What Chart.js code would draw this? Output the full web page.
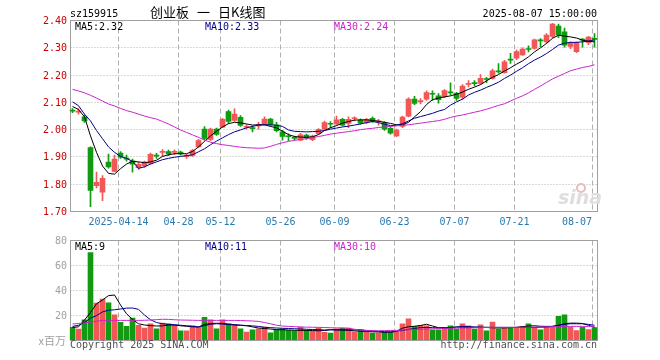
<!DOCTYPE html>
<html>
<head>
<meta charset="utf-8">
<script src="https://cdn.jsdelivr.net/npm/chart.js@4.4.1/dist/chart.umd.min.js"></script>
<style>
html,body{margin:0;padding:0;background:#fff;}
#wrap{position:relative;width:660px;height:360px;}
canvas{display:block;}
</style>
</head>
<body>
<div id="wrap"><canvas id="c" width="660" height="360"></canvas></div>
<script>
// ---------- data ----------
const dates = ['04-01','04-02','04-03','04-07','04-08','04-09','04-10','04-11','04-14','04-15','04-16','04-17','04-18','04-21','04-22','04-23','04-24','04-25','04-28','04-29','04-30',
'05-06','05-07','05-08','05-09','05-12','05-13','05-14','05-15','05-16','05-19','05-20','05-21','05-22','05-23','05-26','05-27','05-28','05-29','05-30',
'06-03','06-04','06-05','06-06','06-09','06-10','06-11','06-12','06-13','06-16','06-17','06-18','06-19','06-20','06-23','06-24','06-25','06-26','06-27','06-30',
'07-01','07-02','07-03','07-04','07-07','07-08','07-09','07-10','07-11','07-14','07-15','07-16','07-17','07-18','07-21','07-22','07-23','07-24','07-25','07-28','07-29','07-30','07-31',
'08-01','08-04','08-05','08-06','08-07'];

const openP  = [2.070,2.062,2.045,1.932,1.793,1.769,1.879,1.845,1.912,1.893,1.884,1.859,1.865,1.874,1.905,1.915,1.918,1.915,1.916,1.899,1.904,
1.936,2.000,1.962,2.000,2.007,2.064,2.032,2.043,2.007,2.005,2.012,2.018,2.037,2.016,1.990,1.975,1.969,1.960,1.978,
1.961,1.983,2.000,2.021,2.019,2.036,2.021,2.038,2.033,2.025,2.040,2.027,2.024,2.003,1.975,2.010,2.048,2.110,2.101,2.110,
2.131,2.122,2.119,2.136,2.131,2.117,2.164,2.170,2.168,2.185,2.186,2.213,2.207,2.256,2.260,2.272,2.295,2.296,2.327,2.320,2.340,2.378,2.357,
2.303,2.284,2.328,2.317,2.332];
const highP  = [2.075,2.075,2.052,1.935,1.843,1.830,1.909,1.905,1.918,1.905,1.890,1.879,1.883,1.912,1.911,1.925,1.923,1.924,1.920,1.908,1.926,
1.963,2.009,2.004,2.004,2.040,2.070,2.074,2.050,2.017,2.012,2.025,2.045,2.040,2.025,1.996,1.983,1.975,1.985,1.982,
1.978,2.002,2.030,2.028,2.048,2.040,2.045,2.045,2.038,2.040,2.045,2.036,2.028,2.008,2.000,2.048,2.115,2.120,2.112,2.140,
2.140,2.130,2.145,2.170,2.135,2.163,2.178,2.178,2.200,2.190,2.220,2.240,2.252,2.278,2.290,2.298,2.305,2.330,2.332,2.350,2.388,2.385,2.370,
2.320,2.320,2.332,2.340,2.350];
const lowP   = [2.060,2.055,2.025,1.716,1.785,1.738,1.857,1.843,1.893,1.883,1.842,1.852,1.860,1.872,1.893,1.900,1.903,1.906,1.905,1.893,1.900,
1.933,1.960,1.958,1.977,2.005,2.020,2.028,2.010,2.000,1.990,2.000,2.015,2.012,1.990,1.960,1.958,1.960,1.958,1.962,
1.958,1.980,1.995,2.005,2.015,2.012,2.005,2.030,2.018,2.020,2.025,2.015,1.995,1.982,1.972,2.005,2.045,2.090,2.092,2.105,
2.105,2.095,2.115,2.125,2.105,2.110,2.155,2.158,2.165,2.170,2.183,2.205,2.205,2.241,2.255,2.270,2.283,2.293,2.302,2.315,2.335,2.335,2.300,
2.295,2.280,2.300,2.310,2.300];
const closeP = [2.066,2.066,2.030,1.775,1.805,1.820,1.862,1.890,1.897,1.890,1.872,1.871,1.879,1.908,1.901,1.919,1.909,1.919,1.909,1.902,1.921,
1.958,1.966,2.000,1.981,2.036,2.028,2.055,2.014,2.010,2.002,2.016,2.037,2.016,1.994,1.973,1.972,1.966,1.979,1.968,
1.975,1.999,2.024,2.018,2.034,2.015,2.036,2.041,2.022,2.036,2.028,2.030,2.000,1.985,1.997,2.044,2.110,2.094,2.104,2.134,
2.128,2.108,2.141,2.133,2.113,2.158,2.167,2.167,2.186,2.182,2.214,2.210,2.247,2.253,2.284,2.293,2.292,2.327,2.323,2.345,2.385,2.345,2.308,
2.315,2.317,2.326,2.337,2.329];

const ma5 = [2.083,2.072,2.045,1.975,1.915,1.865,1.838,1.835,1.855,1.872,1.882,1.880,1.877,1.880,1.886,1.900,1.906,1.910,1.910,1.910,1.918,
1.935,1.955,1.975,1.992,2.008,2.020,2.025,2.023,2.019,2.015,2.016,2.016,2.010,2.005,1.992,1.980,1.973,1.971,1.970,
1.972,1.980,1.995,2.005,2.013,2.022,2.028,2.033,2.034,2.034,2.032,2.029,2.025,2.021,2.016,2.016,2.025,2.045,2.064,2.090,
2.108,2.114,2.118,2.122,2.128,2.136,2.146,2.154,2.163,2.177,2.190,2.200,2.213,2.225,2.238,2.250,2.265,2.283,2.298,2.314,2.333,2.344,2.341,
2.338,2.334,2.326,2.322,2.320];
const ma10 = [2.100,2.086,2.055,2.030,1.995,1.965,1.935,1.915,1.900,1.893,1.882,1.856,1.862,1.872,1.880,1.888,1.893,1.897,1.900,1.903,1.906,
1.917,1.928,1.943,1.956,1.968,1.980,1.990,1.997,2.005,2.010,2.015,2.016,2.016,2.014,2.010,1.997,1.992,1.991,1.990,
1.991,1.992,1.995,2.000,2.004,2.008,2.011,2.015,2.019,2.024,2.028,2.024,2.018,2.013,2.014,2.020,2.030,2.040,2.046,2.052,
2.058,2.066,2.072,2.088,2.100,2.110,2.125,2.135,2.143,2.153,2.162,2.172,2.186,2.198,2.212,2.225,2.240,2.253,2.264,2.277,2.292,2.308,2.315,
2.318,2.318,2.320,2.323,2.327];
const ma30 = [2.146,2.140,2.133,2.124,2.114,2.103,2.092,2.085,2.076,2.068,2.062,2.055,2.048,2.042,2.037,2.028,2.019,2.008,1.997,1.988,1.979,
1.970,1.960,1.952,1.947,1.943,1.940,1.937,1.934,1.932,1.931,1.930,1.931,1.937,1.944,1.950,1.955,1.959,1.962,1.965,
1.969,1.973,1.977,1.982,1.985,1.988,1.991,1.994,1.998,2.001,2.003,2.006,2.008,2.010,2.012,2.014,2.016,2.019,2.022,2.025,
2.028,2.031,2.036,2.043,2.048,2.052,2.057,2.062,2.067,2.073,2.080,2.087,2.093,2.103,2.113,2.122,2.133,2.146,2.158,2.171,2.184,2.194,2.204,
2.214,2.220,2.226,2.230,2.236];

const volume = [10.1,8.8,16.2,70,29.6,32.8,29.8,20.2,14.1,10.9,17.6,11.7,9.6,13,9,13.6,13,11.7,7.4,7.4,11.4,
10.1,18.1,16.2,9,16.2,13,12.2,9,6.4,8.2,9,10.4,5.8,8.2,9,7.7,7.4,10.4,7.7,
6.9,9.6,6.1,5.6,9,9.6,9.6,6.6,8.2,6.1,5.6,5.6,6.4,6.1,6.1,13,17,10.9,11.7,11.4,
8.2,8.2,10.1,11.4,8.8,13,11.4,8.8,12.2,7.4,14.4,8.8,9.6,10.1,10.1,10.9,13,10.1,8.2,10.1,10.1,18.9,20.2,
10.2,7.5,10.2,8.3,10.0];
const vma5 = [10.1,10.5,16,22,29,32,35.5,36,28,21,16.5,13,12,11.5,11.2,11.3,12,12,11.4,11,10.6,
10.4,12.5,13.2,13.4,13.3,12.7,12.2,11.7,11.4,10.5,9.6,9.2,8.8,8.3,8.2,8,7.8,7.7,7.7,
7.6,7.4,7.6,8.2,8,7.9,7.7,7.4,7.1,6.8,6.6,6.4,6.2,6.4,6.9,9.5,10.6,11,11.6,12.6,
11.2,9.8,9.7,10,10.4,10.3,10.1,10.1,10.1,10,9.8,9.6,9.7,9.9,10.1,10.7,11.2,11.4,11,10.9,10.9,11.7,13,
13.5,13.5,13.2,11.8,10.2];
const vma10 = [10.9,11.8,14,17.5,19.5,22.5,23.8,24.2,24.8,25.5,25.6,24.5,20,16.2,14,13,12.5,12.2,11.8,11.4,11,
10.5,11.5,12.6,13,12.8,12.3,12.1,11.9,11.6,11.3,10.9,10.2,9.9,9.6,9.4,9.2,9,8.8,8.6,
8.4,8.2,8,8.2,8.2,8.2,8.2,8.2,8.1,7.6,7.2,6.9,6.6,6.4,6.9,7.7,8.5,9.2,9.9,10.1,
9.9,9.7,9.6,9.9,10.4,10.9,10.7,10.5,10.3,10.2,10.1,10.1,10.1,10.1,10.1,10.1,10.1,10.1,10.2,10.4,10.9,11.8,12.6,
13,13,13,12.5,11.8];
const vma30 = [12.8,13.2,13.7,14.3,15,15.7,15.7,15.7,15.7,15.7,15.7,15.7,15.8,16,16.3,16.6,16.5,16.2,16,15.9,15.8,
15.7,15.7,15.7,15.7,15.7,15.7,15.7,15.6,15.4,15.2,14.9,14,13,11.8,11.2,10.9,10.7,10.4,10.3,
10.2,10.1,10,9.8,9.7,9.6,9.4,8.6,7.9,7.7,7.5,7.4,7.5,7.6,7.7,8,8.2,8.4,8.6,8.8,
9,9.1,9.3,9.4,9.5,9.6,9.7,9.8,9.9,10,10.1,10.1,10.1,10.1,10.1,10.2,10.2,10.3,10.4,10.5,10.6,10.8,10.9,
10.9,10.9,10.9,10.9,10.9];

// values printed in the legends (as shown in the reference)
const priceMaLabels = ['2.32','2.33','2.24'];
const volMaLabels = ['9','11','10'];

const priceTicks = [2.40,2.30,2.20,2.10,2.00,1.90,1.80,1.70];
const volTicks = [80,60,40,20];
const xTickIdx = [8,18,25,35,44,54,64,74,87];
const xTickText = ['2025-04-14','04-28','05-12','05-26','06-09','06-23','07-07','07-21','08-07'];

// ---------- styles ----------
const RED = '#f25757', GREEN = '#129a12';
const C_MA5 = '#000000', C_MA10 = '#00008b', C_MA30 = '#cc22cc';
const candleColor = openP.map((o,i) => closeP[i] >= o ? RED : GREEN);

// price panel: 2.40 -> y20, 1.70 -> y211 ; volume panel: 80 -> y240, 0 -> y340 ; chart area y 20..340
const P_MAX = 2.40, P_MIN = 1.70 - (129 * 0.7 / 191);
const V_MIN = 0, V_MAX = 80 + 220 * 0.8;

const panelPlugin = {
  id: 'panels',
  beforeDatasetsDraw(chart) {
    const {ctx, scales} = chart;
    const xs = scales.x, yp = scales.yp, yv = scales.yv;
    const L = 70.5, R = 597.5;
    const pTop = Math.round(yp.getPixelForValue(priceTicks[0])) + 0.5;
    const pBot = Math.round(yp.getPixelForValue(priceTicks[priceTicks.length-1])) + 0.5;
    const vTop = Math.round(yv.getPixelForValue(volTicks[0])) + 0.5;
    const vBot = Math.round(yv.getPixelForValue(0)) + 0.5;
    const line = (x1,y1,x2,y2) => { ctx.beginPath(); ctx.moveTo(x1,y1); ctx.lineTo(x2,y2); ctx.stroke(); };
    ctx.save();
    ctx.lineWidth = 1;
    ctx.strokeStyle = '#b4b4b4';
    ctx.setLineDash([1,2]);
    priceTicks.slice(1,-1).forEach(t => { const y = Math.round(yp.getPixelForValue(t)) + 0.5; line(L,y,R,y); });
    volTicks.slice(1).forEach(t => { const y = Math.round(yv.getPixelForValue(t)) + 0.5; line(L,y,R,y); });
    ctx.setLineDash([5,3]);
    ctx.strokeStyle = '#b0b0b0';
    xTickIdx.forEach(i => {
      const px = Math.floor(xs.getPixelForValue(i)) - 2 + 0.5;
      line(px,pTop,px,pBot); line(px,vTop,px,vBot);
    });
    ctx.setLineDash([]);
    ctx.strokeStyle = '#a0a0a0';
    ctx.strokeRect(L, pTop, R-L, pBot-pTop);
    ctx.strokeRect(L, vTop, R-L, vBot-vTop);
    // watermark
    ctx.fillStyle = '#dedede';
    ctx.font = 'italic bold 19px "DejaVu Sans"';
    ctx.textAlign = 'left'; ctx.textBaseline = 'alphabetic';
    ctx.fillText('sina', 558, 204);
    ctx.beginPath(); ctx.arc(581, 188, 4, 0, Math.PI*2); ctx.strokeStyle = '#e8bcbc'; ctx.lineWidth = 2; ctx.stroke();
    ctx.restore();
  },
  afterDraw(chart) {
    const {ctx, scales} = chart;
    const xs = scales.x, yp = scales.yp, yv = scales.yv;
    const mono = '10px "DejaVu Sans Mono", monospace';
    ctx.save();
    ctx.font = mono; ctx.textBaseline = 'alphabetic'; ctx.textAlign = 'left';
    ctx.fillStyle = '#000'; ctx.fillText('sz159915', 70, 17);
    ctx.textAlign = 'right'; ctx.fillText('2025-08-07 15:00:00', 597, 17);
    ctx.font = '13px "Noto Sans CJK SC"'; ctx.textAlign = 'left'; ctx.textBaseline = 'middle';
    ctx.fillText('创业板', 150, 12); ctx.fillText('一', 197, 12); ctx.fillText('日K线图', 218, 12);
    // MA legends
    ctx.font = mono; ctx.textBaseline = 'alphabetic'; ctx.textAlign = 'left';
    ctx.fillStyle = C_MA5;  ctx.fillText('MA5:' + priceMaLabels[0], 75, 30);
    ctx.fillStyle = C_MA10; ctx.fillText('MA10:' + priceMaLabels[1], 205, 30);
    ctx.fillStyle = C_MA30; ctx.fillText('MA30:' + priceMaLabels[2], 334, 30);
    ctx.fillStyle = C_MA5;  ctx.fillText('MA5:' + volMaLabels[0], 75, 250);
    ctx.fillStyle = C_MA10; ctx.fillText('MA10:' + volMaLabels[1], 205, 250);
    ctx.fillStyle = C_MA30; ctx.fillText('MA30:' + volMaLabels[2], 334, 250);
    // price ticks
    ctx.textAlign = 'right'; ctx.textBaseline = 'middle'; ctx.fillStyle = '#cc0000';
    priceTicks.forEach(t => ctx.fillText(t.toFixed(2), 67, Math.round(yp.getPixelForValue(t)) + 1));
    // volume ticks
    ctx.fillStyle = '#a0a0a0';
    volTicks.forEach(t => ctx.fillText(String(t), 67, Math.round(yv.getPixelForValue(t)) + 1));
    ctx.font = '11px "Noto Sans CJK SC"';
    ctx.fillText('x百万', 66, 341);
    // x labels
    ctx.font = mono; ctx.fillStyle = '#2a7ab0'; ctx.textBaseline = 'middle';
    xTickIdx.forEach((i,k) => {
      const px = Math.floor(xs.getPixelForValue(i)) - 2;
      const isLast = k === xTickIdx.length - 1;
      ctx.textAlign = isLast ? 'right' : 'center';
      ctx.fillText(xTickText[k], isLast ? px : px + 0.5, 222);
    });
    // footer
    ctx.fillStyle = '#505050'; ctx.textBaseline = 'alphabetic';
    ctx.textAlign = 'left'; ctx.fillText('Copyright 2025 SINA.COM', 70, 348);
    ctx.textAlign = 'right'; ctx.fillText('http://finance.sina.com.cn', 597, 348);
    ctx.restore();
  }
};

const lineDs = (data, color, axis) => ({
  type: 'line', data, yAxisID: axis, borderColor: color, borderWidth: 1,
  pointRadius: 0, pointHoverRadius: 0, fill: false, tension: 0, order: 0
});

new Chart(document.getElementById('c'), {
  type: 'bar',
  data: {
    labels: dates,
    datasets: [
      { data: lowP.map((l,i) => [l, highP[i]]), yAxisID: 'yp', backgroundColor: candleColor,
        barThickness: 1, grouped: false, order: 3, borderWidth: 0 },
      { data: openP.map((o,i) => [o, closeP[i]]), yAxisID: 'yp', backgroundColor: candleColor,
        barThickness: 5, minBarLength: 1, grouped: false, order: 2, borderWidth: 0 },
      { data: volume, yAxisID: 'yv', backgroundColor: candleColor,
        barThickness: 5, grouped: false, order: 2, borderWidth: 0 },
      lineDs(ma30, C_MA30, 'yp'),
      lineDs(ma10, C_MA10, 'yp'),
      lineDs(ma5, C_MA5, 'yp'),
      lineDs(vma30, C_MA30, 'yv'),
      lineDs(vma10, C_MA10, 'yv'),
      lineDs(vma5, C_MA5, 'yv')
    ]
  },
  options: {
    responsive: false, animation: false, devicePixelRatio: 1,
    layout: { padding: { left: 69.5, right: 62.5, top: 20, bottom: 20 } },
    plugins: { legend: { display: false }, tooltip: { enabled: false } },
    events: [],
    scales: {
      x: { type: 'category', display: false, offset: true },
      yp: { type: 'linear', display: false, min: P_MIN, max: P_MAX },
      yv: { type: 'linear', display: false, min: V_MIN, max: V_MAX }
    }
  },
  plugins: [panelPlugin]
});
</script>
</body>
</html>
